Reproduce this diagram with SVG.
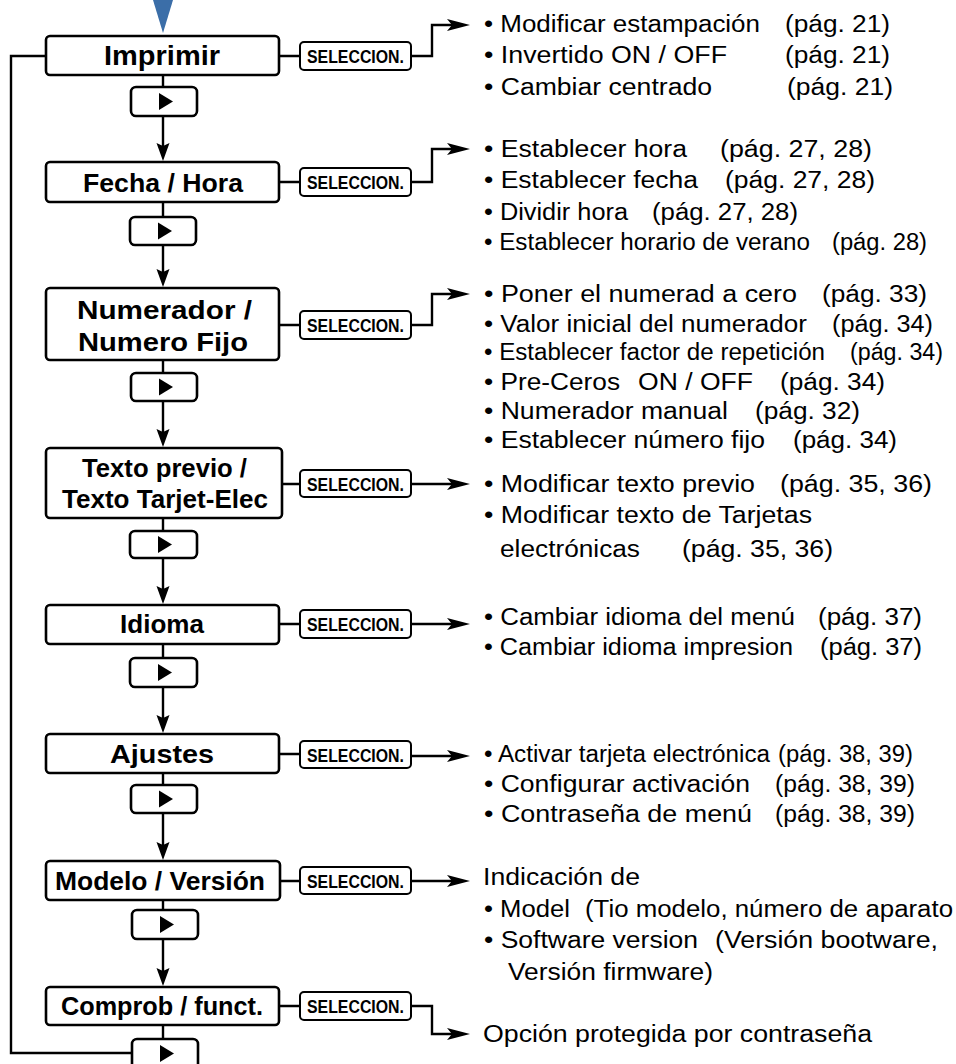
<svg xmlns="http://www.w3.org/2000/svg" width="956" height="1064" viewBox="0 0 956 1064">
<style>
.box{fill:#fff;stroke:#000;stroke-width:2.6}
.sel{fill:#fff;stroke:#000;stroke-width:2}
.ln{fill:none;stroke:#000;stroke-width:2.4}
.lbl{font-family:"Liberation Sans",Arial,sans-serif;font-weight:bold;font-size:26px;text-anchor:middle;fill:#000}
.st{font-family:"Liberation Sans",Arial,sans-serif;font-weight:bold;font-size:18.5px;text-anchor:middle;fill:#000}
.t{font-family:"Liberation Sans",Arial,sans-serif;font-size:23px;fill:#000}
.tri{fill:#000}
</style>
<defs>
<marker id="ad" markerUnits="userSpaceOnUse" viewBox="0 -7 18 14" markerWidth="18" markerHeight="14" refX="8" refY="0" orient="auto">
<path d="M0,-6.5 L18,0 L0,6.5 L3,0 Z" fill="#000"/>
</marker>
<marker id="ar" markerUnits="userSpaceOnUse" viewBox="0 -7 23 14" markerWidth="23" markerHeight="14" refX="12" refY="0" orient="auto">
<path d="M0,-6 L23,0 L0,6 L5,0 Z" fill="#000"/>
</marker>
</defs>

<polygon points="153,0 173,0 163,33" fill="#3b6ea8"/>

<g id="connectors">
<path class="ln" d="M132,1053 H11 V56 H46"/>
<path class="ln" d="M163,75 V87 M163,116 V151" marker-end="url(#ad)"/>
<path class="ln" d="M163,202 V217 M163,245 V277" marker-end="url(#ad)"/>
<path class="ln" d="M163,360 V373 M163,401 V437" marker-end="url(#ad)"/>
<path class="ln" d="M163,518 V531 M163,558 V594" marker-end="url(#ad)"/>
<path class="ln" d="M163,644 V658 M163,687 V723" marker-end="url(#ad)"/>
<path class="ln" d="M163,773 V785 M163,813 V850" marker-end="url(#ad)"/>
<path class="ln" d="M163,900 V910 M163,939 V976" marker-end="url(#ad)"/>
<path class="ln" d="M163,1025 V1039"/>
<path class="ln" d="M279,56 H300 M279,182 H300 M279,325 H300 M282,484 H300 M279,624 H300 M279,754 H300 M280,881 H300 M279,1006 H300"/>
<path class="ln" d="M411,56 H432 V25 H459" marker-end="url(#ar)"/>
<path class="ln" d="M411,182 H432 V149 H459" marker-end="url(#ar)"/>
<path class="ln" d="M411,325 H432 V294 H459" marker-end="url(#ar)"/>
<path class="ln" d="M411,484 H459" marker-end="url(#ar)"/>
<path class="ln" d="M411,624 H459" marker-end="url(#ar)"/>
<path class="ln" d="M411,756 H459" marker-end="url(#ar)"/>
<path class="ln" d="M411,881 H459" marker-end="url(#ar)"/>
<path class="ln" d="M411,1006 H432 V1034 H459" marker-end="url(#ar)"/>
</g>

<g id="imprimir">
<rect class="box" x="46" y="36" width="233" height="39" rx="4"/>
<text class="lbl" x="162" y="65" style="font-size:28px" textLength="116" lengthAdjust="spacingAndGlyphs">Imprimir</text>
</g>
<g id="sel1"><rect class="sel" x="300" y="42" width="111" height="28" rx="4"/><text class="st" x="355.5" y="63" textLength="97" lengthAdjust="spacingAndGlyphs">SELECCION.</text></g>
<g id="play1"><rect class="box" x="131" y="87" width="66" height="29" rx="5"/><polygon class="tri" points="159,93 173,101.5 159,110"/></g>

<g id="fecha">
<rect class="box" x="46" y="162" width="233" height="40" rx="4"/>
<text class="lbl" x="163" y="192" textLength="160" lengthAdjust="spacingAndGlyphs">Fecha / Hora</text>
</g>
<g id="sel2"><rect class="sel" x="300" y="168" width="111" height="28" rx="4"/><text class="st" x="355.5" y="189" textLength="97" lengthAdjust="spacingAndGlyphs">SELECCION.</text></g>
<g id="play2"><rect class="box" x="130" y="217" width="66" height="28" rx="5"/><polygon class="tri" points="158,222.5 172,231 158,239.5"/></g>

<g id="numerador">
<rect class="box" x="46" y="288" width="233" height="72" rx="4"/>
<text class="lbl" x="164.5" y="319" textLength="175" lengthAdjust="spacingAndGlyphs">Numerador /</text>
<text class="lbl" x="163" y="351" textLength="170" lengthAdjust="spacingAndGlyphs">Numero Fijo</text>
</g>
<g id="sel3"><rect class="sel" x="300" y="311" width="111" height="28" rx="4"/><text class="st" x="355.5" y="332" textLength="97" lengthAdjust="spacingAndGlyphs">SELECCION.</text></g>
<g id="play3"><rect class="box" x="131" y="373" width="66" height="28" rx="5"/><polygon class="tri" points="159,378.5 173,387 159,395.5"/></g>

<g id="texto">
<rect class="box" x="46" y="448" width="236" height="70" rx="4"/>
<text class="lbl" x="164.5" y="477" textLength="165" lengthAdjust="spacingAndGlyphs">Texto previo /</text>
<text class="lbl" x="165" y="508" textLength="206" lengthAdjust="spacingAndGlyphs">Texto Tarjet-Elec</text>
</g>
<g id="sel4"><rect class="sel" x="300" y="470" width="111" height="27" rx="4"/><text class="st" x="355.5" y="490.5" textLength="97" lengthAdjust="spacingAndGlyphs">SELECCION.</text></g>
<g id="play4"><rect class="box" x="130" y="531" width="67" height="27" rx="5"/><polygon class="tri" points="158,536 172,544.5 158,553"/></g>

<g id="idioma">
<rect class="box" x="46" y="605" width="233" height="39" rx="4"/>
<text class="lbl" x="162" y="633" textLength="84" lengthAdjust="spacingAndGlyphs">Idioma</text>
</g>
<g id="sel5"><rect class="sel" x="300" y="610" width="111" height="28" rx="4"/><text class="st" x="355.5" y="631" textLength="97" lengthAdjust="spacingAndGlyphs">SELECCION.</text></g>
<g id="play5"><rect class="box" x="130" y="658" width="67" height="29" rx="5"/><polygon class="tri" points="158,664 172,672.5 158,681"/></g>

<g id="ajustes">
<rect class="box" x="46" y="734" width="233" height="39" rx="4"/>
<text class="lbl" x="162" y="763" textLength="104" lengthAdjust="spacingAndGlyphs">Ajustes</text>
</g>
<g id="sel6"><rect class="sel" x="300" y="741" width="111" height="27" rx="4"/><text class="st" x="355.5" y="761.5" textLength="97" lengthAdjust="spacingAndGlyphs">SELECCION.</text></g>
<g id="play6"><rect class="box" x="131" y="785" width="66" height="28" rx="5"/><polygon class="tri" points="159,790.5 173,799 159,807.5"/></g>

<g id="modelo">
<rect class="box" x="46" y="861" width="234" height="39" rx="4"/>
<text class="lbl" x="160" y="890" textLength="210" lengthAdjust="spacingAndGlyphs">Modelo / Versión</text>
</g>
<g id="sel7"><rect class="sel" x="300" y="867" width="111" height="27" rx="4"/><text class="st" x="355.5" y="887.5" textLength="97" lengthAdjust="spacingAndGlyphs">SELECCION.</text></g>
<g id="play7"><rect class="box" x="132" y="910" width="66" height="29" rx="5"/><polygon class="tri" points="160,916 174,924.5 160,933"/></g>

<g id="comprob">
<rect class="box" x="46" y="987" width="233" height="38" rx="4"/>
<text class="lbl" x="162" y="1015" textLength="202" lengthAdjust="spacingAndGlyphs">Comprob / funct.</text>
</g>
<g id="sel8"><rect class="sel" x="300" y="992" width="111" height="28" rx="4"/><text class="st" x="355.5" y="1013" textLength="97" lengthAdjust="spacingAndGlyphs">SELECCION.</text></g>
<g id="play8"><rect class="box" x="132" y="1039" width="66" height="30" rx="5"/><polygon class="tri" points="160,1045 174,1053.5 160,1062"/></g>

<g id="desc-imprimir">
<text class="t" x="484" y="32" textLength="276" lengthAdjust="spacingAndGlyphs">• Modificar estampación</text>
<text class="t" x="785" y="32" textLength="105" lengthAdjust="spacingAndGlyphs">(pág. 21)</text>
<text class="t" x="484" y="63" textLength="243" lengthAdjust="spacingAndGlyphs">• Invertido ON / OFF</text>
<text class="t" x="785" y="63" textLength="105" lengthAdjust="spacingAndGlyphs">(pág. 21)</text>
<text class="t" x="484" y="95" textLength="228" lengthAdjust="spacingAndGlyphs">• Cambiar centrado</text>
<text class="t" x="787" y="95" textLength="106" lengthAdjust="spacingAndGlyphs">(pág. 21)</text>
</g>

<g id="desc-fecha">
<text class="t" x="484" y="157" textLength="203" lengthAdjust="spacingAndGlyphs">• Establecer hora</text>
<text class="t" x="720" y="157" textLength="152" lengthAdjust="spacingAndGlyphs">(pág. 27, 28)</text>
<text class="t" x="484" y="188" textLength="214" lengthAdjust="spacingAndGlyphs">• Establecer fecha</text>
<text class="t" x="725" y="188" textLength="150" lengthAdjust="spacingAndGlyphs">(pág. 27, 28)</text>
<text class="t" x="484" y="220" textLength="144" lengthAdjust="spacingAndGlyphs">• Dividir hora</text>
<text class="t" x="652" y="220" textLength="146" lengthAdjust="spacingAndGlyphs">(pág. 27, 28)</text>
<text class="t" x="484" y="250" textLength="326" lengthAdjust="spacingAndGlyphs">• Establecer horario de verano</text>
<text class="t" x="832" y="250" textLength="95" lengthAdjust="spacingAndGlyphs">(pág. 28)</text>
</g>

<g id="desc-numerador">
<text class="t" x="484" y="302" textLength="313" lengthAdjust="spacingAndGlyphs">• Poner el numerad a cero</text>
<text class="t" x="822" y="302" textLength="105" lengthAdjust="spacingAndGlyphs">(pág. 33)</text>
<text class="t" x="484" y="332" textLength="323" lengthAdjust="spacingAndGlyphs">• Valor inicial del numerador</text>
<text class="t" x="832" y="332" textLength="101" lengthAdjust="spacingAndGlyphs">(pág. 34)</text>
<text class="t" x="484" y="360" textLength="341" lengthAdjust="spacingAndGlyphs">• Establecer factor de repetición</text>
<text class="t" x="850" y="360" textLength="93" lengthAdjust="spacingAndGlyphs">(pág. 34)</text>
<text class="t" x="484" y="390" textLength="136" lengthAdjust="spacingAndGlyphs">• Pre-Ceros</text>
<text class="t" x="638" y="390" textLength="115" lengthAdjust="spacingAndGlyphs">ON / OFF</text>
<text class="t" x="780" y="390" textLength="105" lengthAdjust="spacingAndGlyphs">(pág. 34)</text>
<text class="t" x="484" y="419" textLength="244" lengthAdjust="spacingAndGlyphs">• Numerador manual</text>
<text class="t" x="755" y="419" textLength="105" lengthAdjust="spacingAndGlyphs">(pág. 32)</text>
<text class="t" x="484" y="448" textLength="281" lengthAdjust="spacingAndGlyphs">• Establecer número fijo</text>
<text class="t" x="793" y="448" textLength="104" lengthAdjust="spacingAndGlyphs">(pág. 34)</text>
</g>

<g id="desc-texto">
<text class="t" x="484" y="492" textLength="271" lengthAdjust="spacingAndGlyphs">• Modificar texto previo</text>
<text class="t" x="780" y="492" textLength="152" lengthAdjust="spacingAndGlyphs">(pág. 35, 36)</text>
<text class="t" x="484" y="523" textLength="328" lengthAdjust="spacingAndGlyphs">• Modificar texto de Tarjetas</text>
<text class="t" x="500" y="557" textLength="140" lengthAdjust="spacingAndGlyphs">electrónicas</text>
<text class="t" x="682" y="557" textLength="151" lengthAdjust="spacingAndGlyphs">(pág. 35, 36)</text>
</g>

<g id="desc-idioma">
<text class="t" x="484" y="625" textLength="311" lengthAdjust="spacingAndGlyphs">• Cambiar idioma del menú</text>
<text class="t" x="818" y="625" textLength="104" lengthAdjust="spacingAndGlyphs">(pág. 37)</text>
<text class="t" x="484" y="655" textLength="309" lengthAdjust="spacingAndGlyphs">• Cambiar idioma impresion</text>
<text class="t" x="820" y="655" textLength="102" lengthAdjust="spacingAndGlyphs">(pág. 37)</text>
</g>

<g id="desc-ajustes">
<text class="t" x="484" y="762" textLength="286" lengthAdjust="spacingAndGlyphs">• Activar tarjeta electrónica</text>
<text class="t" x="778" y="762" textLength="135" lengthAdjust="spacingAndGlyphs">(pág. 38, 39)</text>
<text class="t" x="484" y="792" textLength="266" lengthAdjust="spacingAndGlyphs">• Configurar activación</text>
<text class="t" x="775" y="792" textLength="140" lengthAdjust="spacingAndGlyphs">(pág. 38, 39)</text>
<text class="t" x="484" y="822" textLength="268" lengthAdjust="spacingAndGlyphs">• Contraseña de menú</text>
<text class="t" x="775" y="822" textLength="140" lengthAdjust="spacingAndGlyphs">(pág. 38, 39)</text>
</g>

<g id="desc-modelo">
<text class="t" x="483" y="885" textLength="157" lengthAdjust="spacingAndGlyphs">Indicación de</text>
<text class="t" x="484" y="917" textLength="86" lengthAdjust="spacingAndGlyphs">• Model</text>
<text class="t" x="585" y="917" textLength="368" lengthAdjust="spacingAndGlyphs">(Tio modelo, número de aparato</text>
<text class="t" x="484" y="948" textLength="214" lengthAdjust="spacingAndGlyphs">• Software version</text>
<text class="t" x="715" y="948" textLength="223" lengthAdjust="spacingAndGlyphs">(Versión bootware,</text>
<text class="t" x="508" y="980" textLength="205" lengthAdjust="spacingAndGlyphs">Versión firmware)</text>
</g>

<g id="desc-comprob">
<text class="t" x="483" y="1042" textLength="389" lengthAdjust="spacingAndGlyphs">Opción protegida por contraseña</text>
</g>
</svg>
